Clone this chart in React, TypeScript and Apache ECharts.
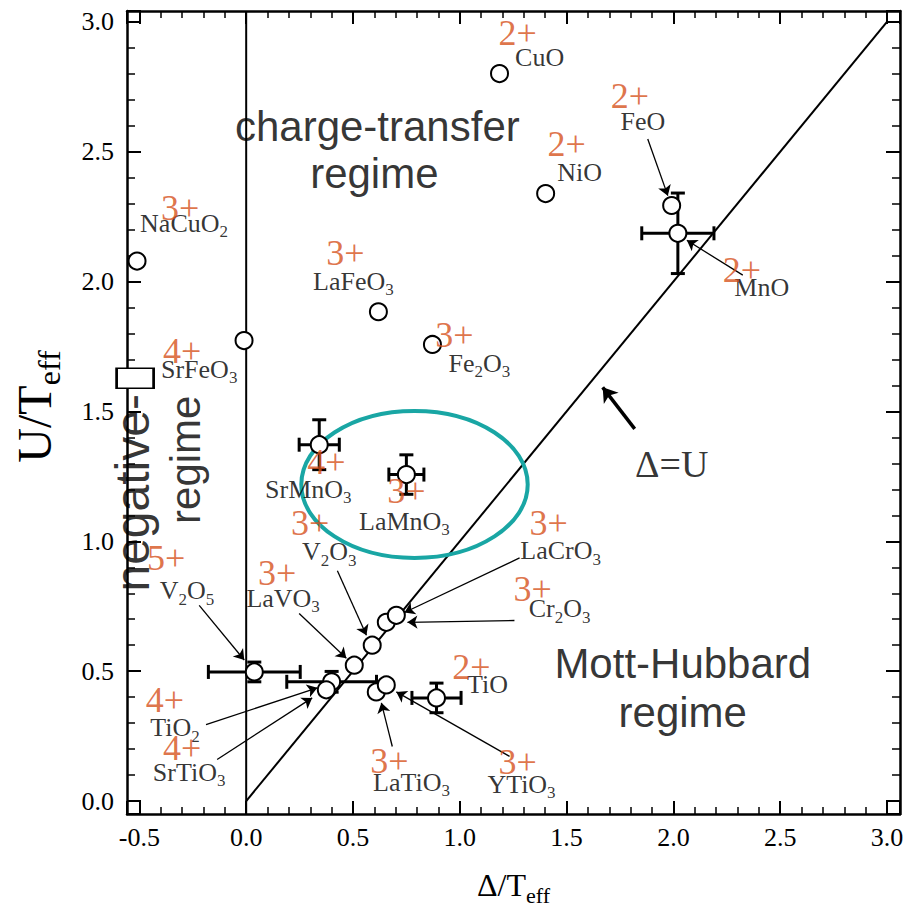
import React, { useEffect, useRef } from 'react';
import * as echarts from 'echarts';

const SERIF = '"Liberation Serif", "Times New Roman", serif';
const SANS = '"Liberation Sans", Arial, sans-serif';
const ORANGE = '#D6501A';
const TEAL = '#19A6A4';

const X_MIN = -0.558;
const X_MAX = 3.061;
const Y_MIN = -0.05;
const Y_MAX = 3.042;

// measured points (Δ/Teff, U/Teff)
const compounds = ['CuO', 'NiO', 'FeO', 'MnO', 'NaCuO2', 'SrFeO3', 'LaFeO3', 'Fe2O3', 'SrMnO3', 'LaMnO3', 'V2O3', 'Cr2O3', 'LaCrO3', 'LaVO3', 'V2O5', 'TiO2', 'SrTiO3', 'LaTiO3', 'YTiO3', 'TiO'];
const deltaValues = [1.186, 1.402, 1.992, 2.021, -0.511, -0.010, 0.619, 0.872, 0.342, 0.750, 0.590, 0.656, 0.703, 0.506, 0.038, 0.400, 0.375, 0.609, 0.656, 0.891];
const uValues = [2.801, 2.339, 2.293, 2.186, 2.079, 1.773, 1.884, 1.758, 1.372, 1.257, 0.600, 0.688, 0.715, 0.523, 0.497, 0.459, 0.428, 0.420, 0.447, 0.397];

// second SrFeO3 estimate (square marker)
const squareDelta = [-0.52];
const squareU = [1.628];

// error bars
const errCompounds = ['MnO', 'SrMnO3', 'LaMnO3', 'V2O5', 'TiO2', 'TiO'];
const errDelta = [0.169, 0.094, 0.082, 0.215, 0.21, 0.115];
const errU = [0.155, 0.096, 0.076, 0.038, 0.04, 0.057];

// compound name labels [text, x, y]
const nameLabels: [string, number, number][] = [
  ['CuO', 1.374, 2.862],
  ['NiO', 1.561, 2.419],
  ['FeO', 1.857, 2.618],
  ['MnO', 2.414, 1.979],
  ['NaCuO2', -0.291, 2.224],
  ['SrFeO3', -0.22, 1.662],
  ['LaFeO3', 0.502, 2.002],
  ['Fe2O3', 1.092, 1.685],
  ['SrMnO3', 0.291, 1.2],
  ['LaMnO3', 0.741, 1.078],
  ['V2O3', 0.389, 0.959],
  ['LaCrO3', 1.472, 0.963],
  ['Cr2O3', 1.467, 0.741],
  ['LaVO3', 0.173, 0.78],
  ['V2O5', -0.277, 0.81],
  ['TiO2', -0.333, 0.283],
  ['SrTiO3', -0.267, 0.111],
  ['LaTiO3', 0.774, 0.073],
  ['YTiO3', 1.289, 0.065],
  ['TiO', 1.13, 0.447],
];

// valence labels [text, x, y]
const chargeLabels: [string, number, number][] = [
  ['2+', 1.271, 2.958],
  ['2+', 1.5, 2.53],
  ['2+', 1.796, 2.713],
  ['2+', 2.321, 2.044],
  ['3+', -0.309, 2.285],
  ['4+', -0.3, 1.731],
  ['3+', 0.464, 2.109],
  ['3+', 0.975, 1.796],
  ['4+', 0.375, 1.307],
  ['3+', 0.75, 1.192],
  ['3+', 0.3, 1.07],
  ['3+', 1.416, 1.07],
  ['3+', 1.341, 0.818],
  ['3+', 0.145, 0.879],
  ['5+', -0.375, 0.936],
  ['4+', -0.38, 0.39],
  ['4+', -0.3, 0.203],
  ['3+', 0.67, 0.153],
  ['3+', 1.271, 0.149],
  ['2+', 1.055, 0.516],
];

// pointer arrows [from, to]
const arrows: [number, number][][] = [
  [[1.88, 2.549], [1.974, 2.331]],
  [[2.325, 2.025], [2.063, 2.159]],
  [[-0.22, 0.753], [-0.009, 0.543]],
  [[0.248, 0.722], [0.469, 0.55]],
  [[0.427, 0.887], [0.563, 0.638]],
  [[1.28, 0.936], [0.741, 0.726]],
  [[1.256, 0.695], [0.755, 0.688]],
  [[-0.188, 0.294], [0.333, 0.436]],
  [[-0.136, 0.16], [0.309, 0.397]],
  [[0.684, 0.21], [0.633, 0.378]],
  [[1.233, 0.172], [0.703, 0.42]],
];
const equalArrow: [number, number][] = [[1.819, 1.433], [1.669, 1.593]];
const equalLabel: [string, number, number] = ['Δ=U', 1.992, 1.299];

// reference lines
const diagonalLine = [[0, 0], [3, 3]];
const zeroLine = [[0, Y_MIN], [0, Y_MAX]];

// highlight ellipse [cx, cy, rx, ry]
const ellipse = [0.788, 1.219, 0.53, 0.283];

// regime labels [text, x, y, rotate, align, fontSize]
const regionLabels: [string, number, number, number, string, number][] = [
  ['charge-transfer', 0.614, 2.598, 0, 'center', 42],
  ['regime', 0.6, 2.415, 0, 'center', 42],
  ['Mott-Hubbard', 2.044, 0.531, 0, 'center', 42],
  ['regime', 2.044, 0.34, 0, 'center', 42],
  ['negative-', -0.53, 1.567, 90, 'right', 48],
  ['regime', -0.286, 1.314, 90, 'center', 42],
];

const toRich = (s: string) =>
  s.replace(/([^0-9]+)|([0-9]+)/g, (m, a, d) => (a ? `{a|${a}}` : `{s|${d}}`));

const fmt = (v: number) => {
  const r = Math.round(v * 2) / 2;
  return Math.abs(v - r) < 1e-6 ? r.toFixed(1) : '';
};

function mkX(position: string, main: boolean) {
  return {
    type: 'value',
    position,
    min: X_MIN,
    max: X_MAX,
    minInterval: 0.5,
    maxInterval: 0.5,
    splitNumber: 7,
    axisLine: { show: true, onZero: false, lineStyle: { color: '#000', width: 2.5 } },
    axisTick: { show: true, inside: true, length: 13, lineStyle: { color: '#000', width: 2 } },
    minorTick: { show: true, splitNumber: 5, length: 7, lineStyle: { color: '#000', width: 1.5 } },
    splitLine: { show: false },
    axisLabel: { show: main, formatter: fmt, fontFamily: SERIF, fontSize: 26, color: '#000', margin: 10 },
    name: main ? '{a|Δ/T}{s|eff}' : '',
    nameLocation: 'middle',
    nameGap: 55,
    nameTextStyle: {
      rich: {
        a: { fontFamily: SERIF, fontSize: 32, verticalAlign: 'bottom', padding: [0, 0, 5, 0], color: '#000' },
        s: { fontFamily: SERIF, fontSize: 22, verticalAlign: 'bottom', color: '#000' },
      },
    },
  };
}

function mkY(position: string, main: boolean) {
  return {
    type: 'value',
    position,
    min: Y_MIN,
    max: Y_MAX,
    minInterval: 0.5,
    maxInterval: 0.5,
    splitNumber: 6,
    axisLine: { show: true, onZero: false, lineStyle: { color: '#000', width: 2.5 } },
    axisTick: { show: true, inside: true, length: 14, lineStyle: { color: '#000', width: 2 } },
    minorTick: { show: true, splitNumber: 5, length: 8, lineStyle: { color: '#000', width: 1.5 } },
    splitLine: { show: false },
    axisLabel: { show: main, formatter: fmt, fontFamily: SERIF, fontSize: 26, color: '#000', margin: 13 },
    name: main ? '{a|U/T}{s|eff}' : '',
    nameLocation: 'middle',
    nameGap: 62,
    nameRotate: 90,
    nameTextStyle: {
      padding: [0, 0, 0, 12],
      rich: {
        a: { fontFamily: SERIF, fontSize: 48, verticalAlign: 'bottom', padding: [0, 0, 7, 0], color: '#000' },
        s: { fontFamily: SERIF, fontSize: 32, verticalAlign: 'bottom', color: '#000' },
      },
    },
  };
}

export default function App() {
  const ref = useRef<HTMLDivElement>(null);
  useEffect(() => {
    if (!ref.current) return;
    const chart = echarts.init(ref.current, undefined, { renderer: 'svg' });
    const points = deltaValues.map((d, i) => [d, uValues[i]]);
    const errData = errCompounds.map((c, i) => {
      const k = compounds.indexOf(c);
      return [deltaValues[k], uValues[k], errDelta[i], errU[i]];
    });
    const option: any = {
      animation: false,
      backgroundColor: '#fff',
      grid: { left: 127, right: 11, top: 11, bottom: 91, containLabel: false },
      xAxis: [mkX('bottom', true), mkX('top', false)],
      yAxis: [mkY('left', true), mkY('right', false)],
      series: [
        {
          type: 'line', data: diagonalLine, symbol: 'none', silent: true, z: 2,
          lineStyle: { color: '#000', width: 2 },
        },
        {
          type: 'line', data: zeroLine, symbol: 'none', silent: true, z: 2,
          lineStyle: { color: '#000', width: 2 },
        },
        {
          type: 'custom', z: 3, silent: true,
          data: [ellipse],
          renderItem: (params: any, api: any) => {
            const c = api.coord([api.value(0), api.value(1)]);
            const s = api.size([api.value(2), api.value(3)]);
            return {
              type: 'ellipse',
              shape: { cx: c[0], cy: c[1], rx: s[0], ry: s[1] },
              style: { fill: 'none', stroke: TEAL, lineWidth: 4 },
            };
          },
        },
        {
          type: 'custom', z: 4, silent: true,
          data: errData,
          encode: { x: 0, y: 1 },
          renderItem: (params: any, api: any) => {
            const x = api.value(0), y = api.value(1), ex = api.value(2), ey = api.value(3);
            const st = { stroke: '#000', lineWidth: 3 };
            const ch: any[] = [];
            const cap = 7;
            if (ex > 0) {
              const a = api.coord([x - ex, y]);
              const b = api.coord([x + ex, y]);
              ch.push({ type: 'line', shape: { x1: a[0], y1: a[1], x2: b[0], y2: b[1] }, style: st });
              ch.push({ type: 'line', shape: { x1: a[0], y1: a[1] - cap, x2: a[0], y2: a[1] + cap }, style: st });
              ch.push({ type: 'line', shape: { x1: b[0], y1: b[1] - cap, x2: b[0], y2: b[1] + cap }, style: st });
            }
            if (ey > 0) {
              const a = api.coord([x, y - ey]);
              const b = api.coord([x, y + ey]);
              ch.push({ type: 'line', shape: { x1: a[0], y1: a[1], x2: b[0], y2: b[1] }, style: st });
              ch.push({ type: 'line', shape: { x1: a[0] - cap, y1: a[1], x2: a[0] + cap, y2: a[1] }, style: st });
              ch.push({ type: 'line', shape: { x1: b[0] - cap, y1: b[1], x2: b[0] + cap, y2: b[1] }, style: st });
            }
            return { type: 'group', children: ch };
          },
        },
        {
          type: 'scatter', z: 5, silent: true,
          data: points,
          symbol: 'circle', symbolSize: 17,
          itemStyle: { color: '#fff', borderColor: '#000', borderWidth: 2, opacity: 1 },
        },
        {
          type: 'scatter', z: 5, silent: true,
          data: squareDelta.map((d, i) => [d, squareU[i]]),
          symbol: 'rect', symbolSize: [37, 20],
          itemStyle: { color: '#fff', borderColor: '#000', borderWidth: 2, opacity: 1 },
        },
        {
          type: 'lines', coordinateSystem: 'cartesian2d', z: 6, silent: true,
          polyline: false,
          symbol: ['none', 'arrow'], symbolSize: 10,
          lineStyle: { color: '#000', width: 1.3, opacity: 1 },
          data: arrows.map((a) => ({ coords: a })),
        },
        {
          type: 'lines', coordinateSystem: 'cartesian2d', z: 6, silent: true,
          polyline: false,
          symbol: ['none', 'arrow'], symbolSize: 14,
          lineStyle: { color: '#000', width: 3.5, opacity: 1 },
          data: [{ coords: equalArrow }],
        },
        {
          type: 'scatter', z: 7, silent: true,
          symbolSize: 1, itemStyle: { color: 'rgba(0,0,0,0)' },
          data: nameLabels.map(([t, x, y]) => ({ value: [x, y], txt: toRich(t) })),
          label: {
            show: true, position: 'inside', offset: [0, 2],
            formatter: (p: any) => p.data.txt,
            rich: {
              a: { fontFamily: SERIF, fontSize: 26, verticalAlign: 'bottom', padding: [0, 0, 4, 0], color: '#000' },
              s: { fontFamily: SERIF, fontSize: 17, verticalAlign: 'bottom', color: '#000' },
            },
          },
        },
        {
          type: 'scatter', z: 7, silent: true,
          symbolSize: 1, itemStyle: { color: 'rgba(0,0,0,0)' },
          data: chargeLabels.map(([t, x, y]) => ({ value: [x, y], txt: t })),
          label: {
            show: true, position: 'inside', formatter: (p: any) => p.data.txt,
            fontFamily: SERIF, fontSize: 36, color: ORANGE,
          },
        },
        {
          type: 'scatter', z: 7, silent: true,
          symbolSize: 1, itemStyle: { color: 'rgba(0,0,0,0)' },
          data: [{ value: [equalLabel[1], equalLabel[2]], txt: equalLabel[0] }],
          label: {
            show: true, position: 'inside', formatter: (p: any) => p.data.txt,
            fontFamily: SERIF, fontSize: 38, color: '#000',
          },
        },
        {
          type: 'scatter', z: 7, silent: true,
          symbolSize: 1, itemStyle: { color: 'rgba(0,0,0,0)' },
          data: regionLabels.map(([t, x, y, r, al, fs]) => ({
            value: [x, y], txt: t,
            label: { rotate: r, align: al, fontSize: fs },
          })),
          label: {
            show: true, position: 'inside', formatter: (p: any) => p.data.txt,
            fontFamily: SANS, fontSize: 42, color: '#000', verticalAlign: 'middle',
          },
        },
      ],
    };
    chart.setOption(option);
    return () => chart.dispose();
  }, []);
  return (
    <div
      ref={ref}
      style={{ position: 'fixed', left: 0, top: 0, width: 911, height: 911, background: '#fff' }}
    />
  );
}
